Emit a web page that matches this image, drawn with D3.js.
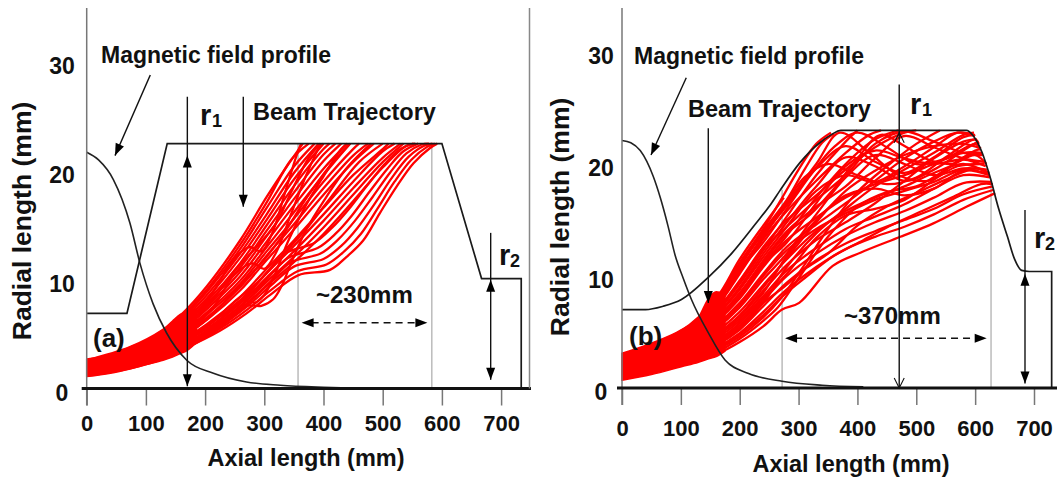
<!DOCTYPE html>
<html>
<head>
<meta charset="utf-8">
<script src="https://cdn.jsdelivr.net/npm/d3@7"></script>
<style>
  body { margin: 0; background: #fff; }
  text { font-family: "Liberation Sans", Arial, sans-serif; font-weight: bold; fill: #111; }
</style>
</head>
<body>
<svg id="chart" width="1057" height="481"></svg>
<script>
// ---- data (mm) ----
const xTicks = [0, 100, 200, 300, 400, 500, 600, 700];
const yTicks = [0, 10, 20, 30];

// drift tube wall (axial mm, radial mm); last point is the drop to the axis
const wallA = [[0,6.9],[68,6.9],[136,22.5],[600,22.5],[667,10.1],[734,10.1],[734,0]];
const wallB = [[0,7.0],[40,7.0],[70,7.3],[101,7.9],[147,9.9],[186,12.0],[226,14.6],[254,16.5],[268,17.6],[302,20.1],
               [336,21.9],[355,22.6],[372,23],[585,23],[597,22.5],[612,21],[625,18.9],[640,16],[655,13.5],[667,11.5],
               [679,10.5],[692,10.4],[730,10.4],[730,0]];

// magnetic field profile (scaled to the radial axis)
const fieldA = [[0,21.7],[20,21.0],[45,19.2],[73,15.2],[90,11.5],[112,7.8],[135,5.1],[169,2.6],[214,1.4],[270,0.6],[327,0.3],[400,0.12],[445,0.05]];
const fieldB = [[0,22.1],[15,21.9],[31,21.2],[53,18.9],[65,17.0],[78,14.5],[90,11.9],[104,9.8],[118,7.9],[147,4.9],[175,2.5],[215,1.3],[272,0.6],[340,0.25],[410,0.1]];

// dense rippled core of the beam near the gun
const bandAx  = [0, 40, 73, 100, 129, 145, 158, 170, 185];
const bandAlo = [1.1, 1.4, 1.8, 2.2, 2.6, 2.9, 3.2, 3.5, 4.2];
const bandAhi = [2.7, 3.1, 3.8, 4.4, 5.4, 6.2, 6.8, 7.1, 7.3];
const bandBx  = [0, 50, 101, 130, 147, 160, 175];
const bandBlo = [0.7, 1.2, 1.9, 2.3, 2.6, 2.8, 3.3];
const bandBhi = [3.1, 4.0, 5.2, 6.3, 8.0, 8.6, 8.4];

// individual electron trajectories, panel (a)
const beamA = [
  [[0,2.6],[73,3.8],[129,5.4],[160,6.8],[203,9.4],[259,13.6],[304,17.6],[338,20.4],[365,22.5]],
  [[0,2.55],[73,3.7],[129,5.25],[160,6.6],[203,9.1],[259,13.2],[304,17.1],[345,21.0],[375,22.5]],
  [[0,2.5],[73,3.6],[129,5.1],[160,6.4],[203,8.9],[259,12.8],[304,16.6],[350,20.4],[385,22.5]],
  [[0,2.4],[73,3.5],[129,4.95],[160,6.2],[203,8.6],[259,12.4],[304,16.0],[350,19.8],[392,22.5]],
  [[0,2.3],[73,3.4],[129,4.8],[160,6.0],[203,8.3],[259,12.0],[304,15.5],[350,19.2],[400,22.5]],
  [[0,2.25],[73,3.3],[129,4.65],[160,5.85],[203,8.0],[259,11.5],[304,15.0],[350,18.6],[400,22.0],[410,22.5]],
  [[0,2.2],[73,3.2],[129,4.5],[160,5.7],[203,7.8],[259,11.1],[304,14.5],[350,18.0],[400,21.5],[420,22.5]],
  [[0,2.1],[73,3.1],[129,4.35],[160,5.5],[203,7.5],[259,10.7],[304,14.0],[350,17.4],[400,20.9],[430,22.5]],
  [[0,2.0],[73,3.0],[129,4.2],[160,5.3],[203,7.3],[259,10.3],[304,13.5],[350,16.8],[400,20.2],[440,22.5]],
  [[0,1.95],[73,2.9],[129,4.05],[160,5.15],[203,7.0],[259,9.9],[304,13.0],[350,16.2],[400,19.6],[445,22.5]],
  [[0,1.9],[73,2.8],[129,3.9],[160,5.0],[203,6.8],[259,9.6],[304,12.6],[350,15.6],[400,19.0],[450,22.0],[460,22.5]],
  [[0,1.85],[73,2.7],[129,3.8],[160,4.85],[203,6.5],[259,9.3],[304,12.2],[350,15.1],[400,18.4],[450,21.4],[475,22.5]],
  [[0,1.8],[73,2.6],[129,3.7],[160,4.7],[203,6.3],[259,9.0],[304,11.8],[350,14.6],[400,17.8],[450,20.8],[485,22.5]],
  [[0,1.7],[73,2.5],[129,3.5],[160,4.4],[203,5.9],[259,8.4],[304,11.0],[350,13.6],[400,16.6],[450,19.6],[500,22.0],[510,22.5]],
  [[0,1.65],[73,2.4],[129,3.4],[160,4.25],[203,5.7],[259,8.1],[304,10.6],[350,13.1],[400,16.0],[450,19.0],[500,21.8],[520,22.5]],
  [[0,1.5],[73,2.3],[129,3.3],[160,4.1],[203,5.5],[259,7.8],[304,10.2],[350,12.6],[400,15.4],[450,18.4],[500,21.2],[530,22.5]],
  [[0,1.45],[73,2.2],[129,3.2],[160,3.95],[203,5.3],[259,7.5],[304,9.8],[350,12.1],[400,14.8],[450,17.8],[500,20.8],[535,22.5]],
  [[0,1.4],[73,2.1],[129,3.1],[160,3.8],[203,5.1],[259,7.2],[304,9.4],[350,11.6],[400,14.2],[450,17.2],[500,20.3],[540,22.3],[555,22.5]],
  [[0,1.35],[73,2.0],[129,2.9],[170,3.8],[225,5.3],[270,6.9],[310,8.6],[357,10.4],[411,10.9],[439,12.1],[467,13.6],[495,16.1],[524,18.6],[552,20.7],[580,22.1],[592,22.5]],
  [[0,1.4],[73,2.05],[129,3.0],[170,3.9],[225,5.5],[270,7.2],[310,9.0],[357,10.8],[405,11.4],[435,12.6],[463,14.2],[492,16.6],[520,19.0],[548,21.0],[575,22.2],[588,22.5]],
  [[0,1.45],[73,2.1],[129,3.05],[170,4.0],[225,5.7],[270,7.5],[310,9.4],[350,11.2],[400,11.9],[430,13.1],[458,14.8],[488,17.1],[516,19.4],[544,21.3],[570,22.3],[584,22.5]],
  [[0,1.25],[73,1.95],[129,2.85],[170,3.75],[225,5.9],[270,7.8],[310,9.8],[345,11.6],[395,12.4],[425,13.7],[453,15.4],[483,17.6],[512,19.8],[540,21.6],[565,22.4],[578,22.5]],
  [[0,1.2],[73,1.9],[129,2.8],[170,3.9],[225,6.1],[270,8.1],[305,10.1],[340,12.0],[390,12.9],[420,14.2],[448,15.9],[478,18.1],[508,20.2],[535,21.8],[560,22.5]],
  [[0,1.15],[73,1.85],[129,2.75],[170,4.0],[225,6.3],[270,8.5],[300,10.4],[335,12.4],[385,13.4],[415,14.8],[443,16.5],[473,18.6],[503,20.6],[530,22.0],[552,22.5]],
  [[0,1.3],[100,2.3],[160,3.5],[210,5.0],[245,6.5],[270,7.6],[295,7.6],[315,8.2],[330,9.5],[345,11.5],[370,14.5],[400,17.2],[440,20.3],[480,22.5]],
  [[0,1.6],[100,2.5],[160,3.7],[210,5.4],[240,7.2],[262,8.1],[285,7.9],[300,8.6],[318,10.5],[340,13.5],[370,16.8],[400,19.5],[430,22.0],[440,22.5]],
  [[0,2.1],[100,3.4],[160,5.5],[210,8.0],[250,10.8],[290,13.2],[320,15.2],[345,18.0],[375,21.2],[395,22.5]],
  [[0,1.75],[100,2.9],[160,4.6],[210,6.7],[250,9.0],[290,11.2],[330,14.0],[370,17.4],[410,20.4],[445,22.5]],
  [[0,1.55],[100,2.6],[160,4.2],[210,6.0],[250,8.0],[290,9.8],[330,12.2],[370,14.6],[410,17.4],[460,20.8],[500,22.5]],
  [[0,1.9],[100,3.0],[160,4.8],[210,7.2],[250,10.5],[280,11.5],[300,11.0],[320,12.5],[345,16.0],[370,19.5],[395,22.5]],
  [[0,2.3],[100,3.6],[160,5.6],[210,8.6],[250,12.0],[275,13.0],[295,12.6],[315,14.5],[335,18.0],[355,21.5],[362,22.5]]
];

// individual electron trajectories, panel (b)
const beamB = [
  [[0,3.0],[100,5.1],[160,8.0],[200,11.5],[240,14.5],[275,17.0]],
  [[0,2.95],[100,5.0],[160,7.9],[200,11.2],[240,14.2],[270,16.8],[300,19.5],[330,21.8],[355,22.8]],
  [[0,2.8],[100,4.8],[160,7.6],[200,10.8],[240,14.0],[280,16.8],[310,19.5],[340,21.9],[360,22.7]],
  [[0,2.75],[100,4.75],[160,7.5],[200,10.6],[240,13.5],[280,16.6],[310,18.8],[350,20.0],[400,19.0],[450,18.2],[500,18.8],[550,20.6],[600,22.2],[606,21.8]],
  [[0,2.65],[100,4.6],[160,7.3],[200,10.4],[240,13.6],[280,16.3],[330,19.6],[380,21.6],[430,20.2],[480,19.2],[530,20.6],[580,22.4],[600,22.6]],
  [[0,2.6],[100,4.5],[160,7.2],[200,10.2],[240,13.3],[280,15.8],[330,18.5],[380,21.0],[420,22.6],[440,23]],
  [[0,2.5],[100,4.3],[160,6.9],[200,9.6],[240,12.6],[280,15.0],[330,17.2],[380,19.5],[430,21.5],[480,22.8],[500,23]],
  [[0,2.45],[100,4.2],[160,6.8],[200,9.5],[240,12.4],[280,14.4],[330,16.8],[380,19.0],[430,21.8],[480,22.9],[530,22.0],[580,21.0],[613,20.8]],
  [[0,2.3],[100,4.0],[160,6.5],[200,9.0],[240,12.0],[280,14.8],[330,18.0],[380,20.6],[430,19.8],[480,18.5],[530,19.5],[580,21.2],[605,22]],
  [[0,2.25],[100,3.9],[160,6.4],[200,8.8],[240,11.7],[280,14.4],[330,17.6],[380,19.0],[430,18.4],[480,19.8],[530,21.5],[570,22.8],[598,22.6]],
  [[0,2.2],[100,3.8],[160,6.2],[200,8.4],[240,11.4],[280,14.0],[330,16.2],[380,18.0],[430,20.5],[480,22.5],[530,21.5],[580,20.5],[615,20.2]],
  [[0,2.15],[100,3.8],[160,6.1],[200,8.5],[240,11.2],[280,13.8],[320,15.5],[360,17.8],[400,20.5],[440,22.6],[480,21.6],[520,20.4],[560,20.0],[600,20.8],[619,20]],
  [[0,2.05],[100,3.7],[160,6.0],[200,8.1],[240,11.0],[280,13.0],[330,16.5],[380,19.8],[430,21.2],[480,20.5],[530,20.0],[580,20.4],[618,19.8]],
  [[0,2.0],[100,3.6],[160,5.9],[200,8.0],[240,10.8],[280,13.2],[330,15.2],[380,17.0],[430,18.2],[480,19.0],[530,20.0],[580,21.0],[612,21]],
  [[0,1.9],[100,3.4],[160,5.6],[200,7.6],[240,10.2],[280,12.6],[330,14.6],[380,16.5],[430,18.5],[480,20.5],[530,22.0],[570,22.8],[600,22.5]],
  [[0,1.85],[100,3.3],[160,5.4],[200,7.4],[240,10.0],[280,12.3],[330,14.2],[380,15.6],[430,16.8],[480,17.6],[530,18.4],[580,19.5],[623,19.1]],
  [[0,1.8],[100,3.2],[160,5.3],[200,7.2],[240,9.7],[280,12.0],[330,15.5],[380,18.8],[430,20.8],[480,20.0],[530,19.0],[580,19.6],[620,19.5]],
  [[0,1.7],[100,3.0],[160,5.0],[200,6.8],[240,9.2],[280,11.5],[330,14.0],[380,15.8],[430,17.0],[480,18.0],[530,19.2],[580,20.0],[622,19.2]],
  [[0,1.65],[100,2.95],[160,4.8],[200,6.5],[240,9.0],[280,11.6],[330,14.8],[380,17.6],[430,19.4],[480,20.8],[530,21.6],[580,21.8],[610,21.4]],
  [[0,1.6],[100,2.9],[160,4.7],[200,6.4],[240,8.7],[280,11.0],[330,13.2],[380,14.8],[430,16.5],[480,18.5],[530,20.5],[580,22.0],[603,22.2]],
  [[0,1.55],[100,2.8],[160,4.6],[200,6.2],[240,8.5],[280,11.8],[330,15.0],[380,17.2],[430,17.8],[480,17.2],[530,17.8],[580,19.4],[624,19.0]],
  [[0,1.5],[100,2.7],[160,4.4],[200,6.0],[240,8.2],[280,10.5],[330,12.5],[380,14.2],[430,15.3],[480,16.4],[530,17.8],[580,19.0],[625,18.8]],
  [[0,1.45],[100,2.65],[160,4.2],[200,5.8],[240,8.0],[280,10.2],[330,13.4],[380,15.4],[430,16.0],[480,16.8],[530,18.6],[580,20.6],[612,21]],
  [[0,1.4],[100,2.6],[160,4.1],[200,5.6],[240,7.8],[280,10.0],[330,12.0],[380,13.6],[430,14.8],[480,15.8],[530,17.0],[580,18.3],[628,18.4]],
  [[0,1.35],[100,2.5],[160,4.0],[200,5.4],[240,7.6],[275,9.0],[310,10.6],[350,12.0],[400,14.5],[450,16.2],[500,17.4],[550,18.6],[600,19.6],[624,19.2]],
  [[0,1.3],[100,2.4],[160,3.8],[200,5.2],[240,7.3],[280,9.4],[330,11.4],[380,12.9],[430,14.0],[480,15.0],[530,16.0],[580,17.3],[630,18.0]],
  [[0,1.25],[100,2.5],[160,3.9],[200,5.4],[240,7.6],[280,10.8],[330,13.8],[380,16.0],[430,18.0],[480,19.5],[530,21.0],[580,22.6],[598,22.8]],
  [[0,1.2],[100,2.3],[160,3.6],[200,4.9],[240,6.8],[280,8.8],[330,10.8],[380,12.4],[430,13.5],[480,14.4],[530,15.5],[580,16.8],[632,17.7]],
  [[0,1.15],[100,2.25],[160,3.5],[200,4.8],[240,6.5],[275,8.3],[310,9.8],[360,11.8],[410,13.2],[460,14.6],[510,15.8],[560,17.0],[610,18.2],[630,18.2]],
  [[0,1.1],[100,2.2],[160,3.4],[200,4.6],[240,6.3],[270,8.0],[310,11.0],[350,14.2],[400,17.5],[450,19.8],[500,21.8],[540,23]],
  [[0,1.0],[100,2.1],[160,3.2],[200,4.4],[240,6.0],[265,7.2],[300,9.8],[350,13.5],[400,16.2],[450,17.5],[500,18.0],[550,19.5],[600,21.2],[610,21.3]],
  [[0,0.9],[100,2.0],[160,3.0],[200,4.1],[240,5.5],[272,7.0],[301,7.6],[358,10.9],[406,12.1],[473,13.5],[529,14.7],[586,16.2],[634,17.4]],
  [[0,2.9],[100,4.9],[160,7.8],[200,11.0],[240,13.8],[280,16.5],[330,20.0],[370,22.8],[420,21.0],[470,19.0],[520,18.5],[570,19.8],[616,20]],
  [[0,2.7],[100,4.7],[160,7.4],[200,10.5],[240,13.0],[280,16.0],[320,19.0],[360,21.5],[400,22.8],[450,21.5],[500,20.0],[550,20.5],[600,21.8],[608,21.4]],
  [[0,2.4],[100,4.1],[160,6.7],[200,9.3],[240,12.3],[280,15.3],[330,19.0],[380,22.0],[400,23]],
  [[0,2.1],[100,3.7],[160,6.0],[200,8.2],[240,11.0],[280,13.6],[330,17.0],[380,20.0],[430,22.2],[470,23]]
];

// guide lines bounding the beam-wall interaction length
const guidesA = [[357, 22.5], [583, 22.5]];
const guidesB = [[272, 17.7], [627, 18.6]];

// annotation arrows: line end points, plus heads [x, r, sign along the line]
const arrowsA = [
  { p: [[107.4, 28.8], [47.8, 21.4]], heads: [[47.8, 21.4, 1]] },
  { p: [[170, 26.8], [170, 0.2]], heads: [[170, 21.4, -1], [170, 0.2, 1]] },
  { p: [[264.5, 26.8], [264.5, 16.7]], heads: [[264.5, 16.7, 1]] },
  { p: [[682.4, 14.3], [682.4, 0.8]], heads: [[682.4, 10.0, -1], [682.4, 0.8, 1]] }
];
const arrowsB = [
  { p: [[109.2, 27.7], [49.3, 20.8]], heads: [[49.3, 20.8, 1]] },
  { p: [[146.6, 23.2], [146.6, 7.6]], heads: [[146.6, 7.6, 1]] },
  { p: [[471, 27.1], [471, 0]], heads: [[471, 22.8, -1, "open"], [471, 0, 1, "open"]] },
  { p: [[684.7, 15.9], [684.7, 0.4]], heads: [[684.7, 10.2, -1], [684.7, 0.4, 1]] }
];
const spanA = [363, 575.5, 6.05];   // dashed dimension: from, to, at radius
const spanB = [277, 619.6, 4.44];

const svg = d3.select("#chart");

function panel(o) {
  const x = d3.scaleLinear().domain([0, 700]).range(o.xr);
  const y = d3.scaleLinear().domain([0, 30]).range(o.yr);
  const g = svg.append("g");
  const smooth = d3.line().x(d => x(d[0])).y(d => y(d[1]));

  // guides
  g.selectAll(".guide").data(o.guides).enter().append("line")
    .attr("x1", d => x(d[0])).attr("x2", d => x(d[0]))
    .attr("y1", d => y(d[1])).attr("y2", y(0))
    .attr("stroke", "#aaa").attr("stroke-width", 1.2);

  // beam core
  const band = o.bandX.map((v, i) => [v, o.bandLo[i], o.bandHi[i]]);
  g.append("path").datum(band)
    .attr("d", d3.area().x(d => x(d[0])).y0(d => y(d[1])).y1(d => y(d[2])).curve(d3.curveMonotoneX))
    .attr("fill", "#ff0000").attr("stroke", "#ff0000").attr("stroke-width", 1.5);

  // trajectories
  g.selectAll(".traj").data(o.beam).enter().append("path")
    .attr("d", smooth.curve(d3.curveCatmullRom.alpha(0.5)))
    .attr("fill", "none").attr("stroke", "#ff0000").attr("stroke-width", 2.3);

  // magnetic field profile
  g.append("path").datum(o.field)
    .attr("d", d3.line().x(d => x(d[0])).y(d => y(d[1])).curve(d3.curveMonotoneX))
    .attr("fill", "none").attr("stroke", "#222").attr("stroke-width", 1.6);

  // wall: smooth part, then the straight drop to the axis
  const last = o.wall[o.wall.length - 1];
  const wallPath = d3.line().x(d => x(d[0])).y(d => y(d[1])).curve(o.wallCurve)(o.wall.slice(0, -1))
    + `L${x(last[0])},${y(last[1])}`;
  g.append("path").attr("d", wallPath)
    .attr("fill", "none").attr("stroke", "#1a1a1a").attr("stroke-width", 1.7);

  // axes
  g.append("line").attr("x1", x(0)).attr("x2", x(0)).attr("y1", 8).attr("y2", y(0) + 17)
    .attr("stroke", "#777").attr("stroke-width", 1.5);
  const ax = g.append("g").attr("transform", `translate(0,${y(0)})`)
    .call(d3.axisBottom(x).tickValues(xTicks).tickSize(17).tickPadding(o.tickPad));
  ax.select(".domain").remove();
  ax.selectAll(".tick line").attr("stroke", "#777").attr("stroke-width", 1.5);
  ax.selectAll(".tick text").style("font-size", "22px").style("font-family", '"Liberation Sans", Arial, sans-serif')
    .style("font-weight", "bold").attr("fill", "#111");
  g.append("line").attr("x1", x(0) - 5).attr("x2", o.axisEnd).attr("y1", y(0)).attr("y2", y(0))
    .attr("stroke", "#111").attr("stroke-width", 3);

  g.selectAll(".ylab").data(yTicks).enter().append("text")
    .attr("x", o.yLabX).attr("y", d => y(d) + 4).attr("dy", "0.35em")
    .attr("text-anchor", "middle").style("font-size", "23px").text(d => d);

  // arrows
  const head = (tx, ty, ux, uy, open) => {
    const len = open ? 10 : 12, half = open ? 5 : 4.5;
    const bx = tx - ux * len, by = ty - uy * len;
    const a = [bx - uy * half, by + ux * half], b = [bx + uy * half, by - ux * half];
    if (open) {
      g.append("path").attr("d", `M${a}L${tx},${ty}L${b}`).attr("fill", "none")
        .attr("stroke", "#111").attr("stroke-width", 1.1);
    } else {
      g.append("path").attr("d", `M${tx},${ty}L${a}L${b}Z`).attr("fill", "#000");
    }
  };
  o.arrows.forEach(a => {
    const [p0, p1] = a.p;
    const x0 = x(p0[0]), y0 = y(p0[1]), x1 = x(p1[0]), y1 = y(p1[1]);
    const L = Math.hypot(x1 - x0, y1 - y0), ux = (x1 - x0) / L, uy = (y1 - y0) / L;
    g.append("line").attr("x1", x0).attr("y1", y0).attr("x2", x1).attr("y2", y1)
      .attr("stroke", "#111").attr("stroke-width", 1.4);
    a.heads.forEach(h => head(x(h[0]), y(h[1]), ux * h[2], uy * h[2], h[3] === "open"));
  });

  // dimension
  const [s0, s1, sr] = o.span;
  g.append("line").attr("x1", x(s0) + 10).attr("x2", x(s1) - 10).attr("y1", y(sr)).attr("y2", y(sr))
    .attr("stroke", "#111").attr("stroke-width", 1.5).attr("stroke-dasharray", "7,5");
  head(x(s0), y(sr), -1, 0, false);
  head(x(s1), y(sr), 1, 0, false);

  // frame line at the right edge of (a)
  if (o.frame) {
    g.append("line").attr("x1", o.frame).attr("x2", o.frame).attr("y1", 8).attr("y2", y(0))
      .attr("stroke", "#888").attr("stroke-width", 1.5);
  }

  // texts
  const t = (tx, ty, s, size) => g.append("text").attr("x", tx).attr("y", ty).style("font-size", size + "px").text(s);
  t(o.mag[0], o.mag[1], "Magnetic field profile", 23);
  t(o.bt[0], o.bt[1], "Beam Trajectory", 23.5);
  t(o.r1[0], o.r1[1], "r", 29); t(o.r1[0] + 12, o.r1[1] + 2, "1", 18);
  t(o.r2[0], o.r2[1], "r", 29); t(o.r2[0] + 11, o.r2[1] + 2, "2", 18);
  t(o.lab[0], o.lab[1], o.lab[2], 26);
  t(o.len[0], o.len[1], o.len[2], 24);
  g.append("text").attr("x", o.xt[0]).attr("y", o.xt[1]).attr("text-anchor", "middle")
    .style("font-size", "23.5px").text("Axial length (mm)");
  g.append("text").attr("transform", `translate(${o.yt[0]},${o.yt[1]}) rotate(-90)`).attr("text-anchor", "middle")
    .style("font-size", "26.5px").text("Radial length (mm)");
}

panel({
  xr: [86.7, 501.1], yr: [388.5, 62], wall: wallA, wallCurve: d3.curveLinear, field: fieldA,
  bandX: bandAx, bandLo: bandAlo, bandHi: bandAhi, beam: beamA, guides: guidesA,
  arrows: arrowsA, span: spanA, tickPad: 10, axisEnd: 531, yLabX: 62, frame: 529.5,
  mag: [101, 63], bt: [253, 120], r1: [200, 125], r2: [499, 265], lab: [93, 347, "(a)"],
  len: [316, 303, "~230mm"], xt: [306, 466], yt: [30.5, 221]
});
panel({
  xr: [622, 1034], yr: [388, 52], wall: wallB, wallCurve: d3.curveMonotoneX, field: fieldB,
  bandX: bandBx, bandLo: bandBlo, bandHi: bandBhi, beam: beamB, guides: guidesB,
  arrows: arrowsB, span: spanB, tickPad: 15, axisEnd: 1057, yLabX: 601, frame: null,
  mag: [634, 64], bt: [688, 117], r1: [910, 114], r2: [1034, 248], lab: [629, 345, "(b)"],
  len: [844, 324, "~370mm"], xt: [851, 472], yt: [569, 217]
});
</script>
</body>
</html>
